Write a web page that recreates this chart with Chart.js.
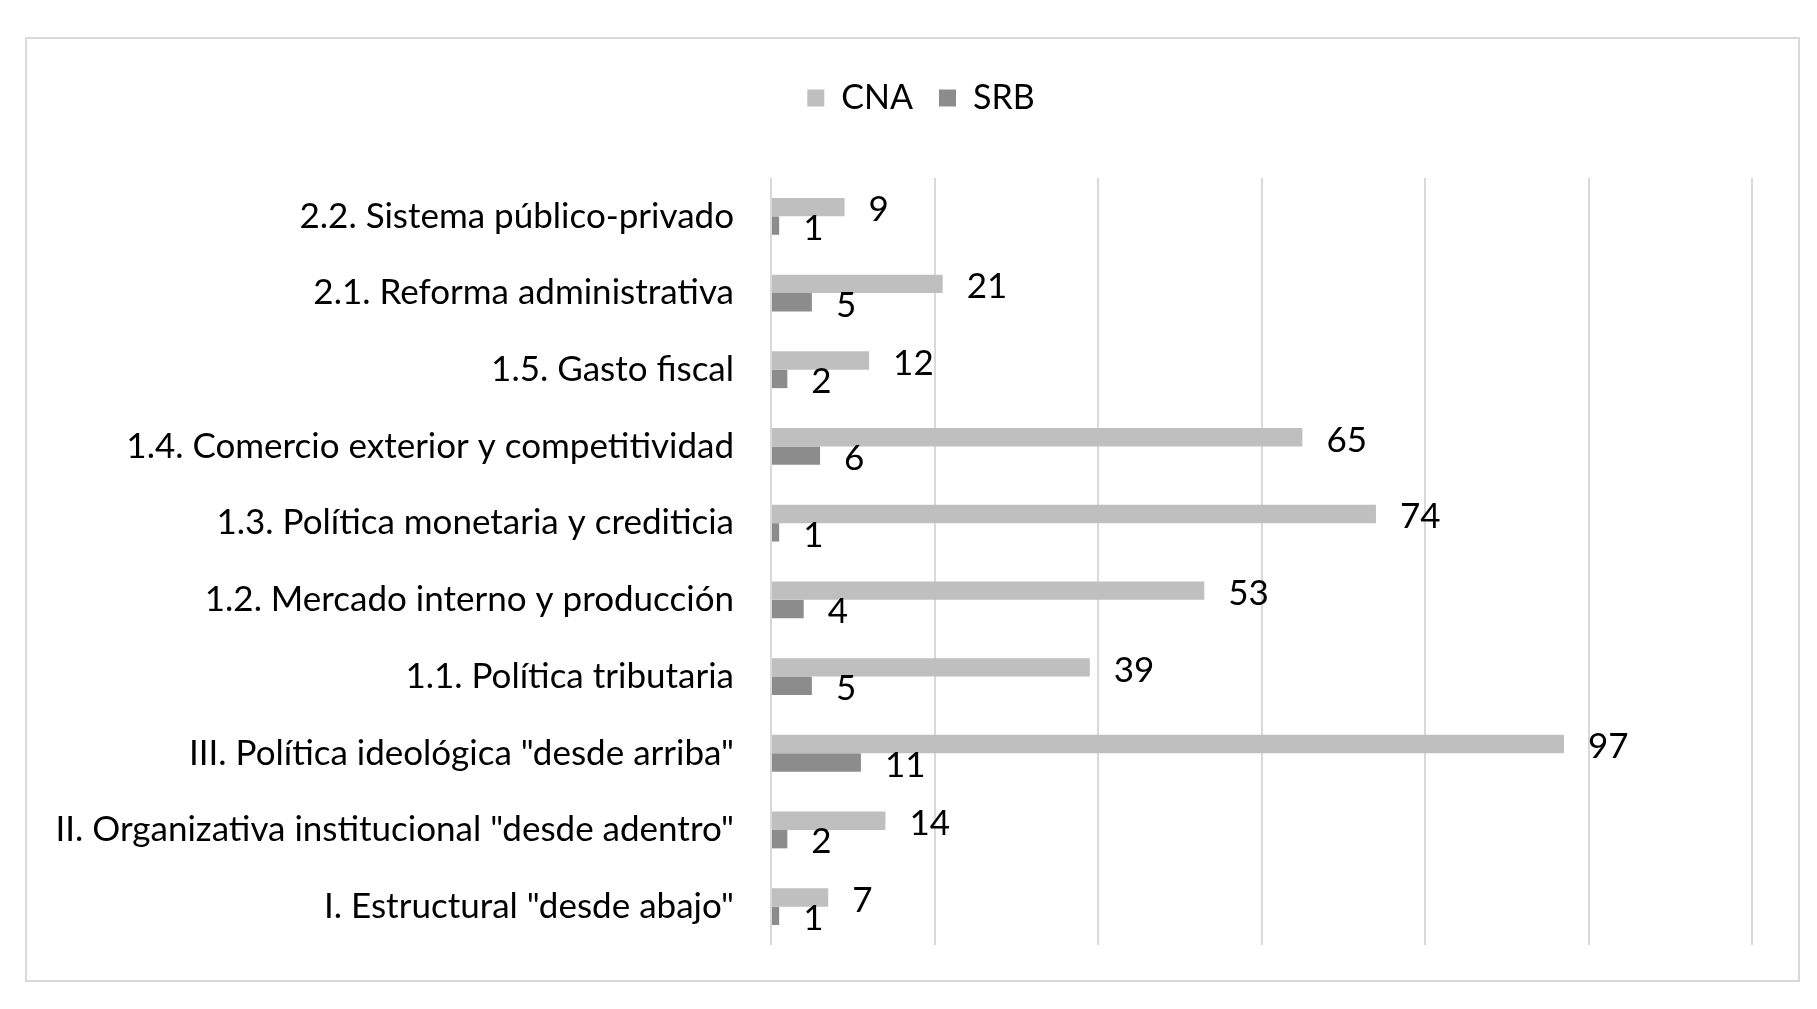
<!DOCTYPE html>
<html>
<head>
<meta charset="utf-8">
<script src="https://cdn.jsdelivr.net/npm/chart.js@4.4.0/dist/chart.umd.min.js"></script>
<style>
  html, body { margin: 0; padding: 0; background: #fff; }
  #marco { position: absolute; left: 25px; top: 37px; width: 1771px; height: 941px; border: 2px solid #d9d9d9; }
  #grafico { position: absolute; left: 0; top: 0; }
</style>
</head>
<body>
<canvas id="grafico" width="1817" height="1009"></canvas>
<div id="marco"></div>
<script>
const categorias = [
  '2.2. Sistema público-privado',
  '2.1. Reforma administrativa',
  '1.5. Gasto fiscal',
  '1.4. Comercio exterior y competitividad',
  '1.3. Política monetaria y crediticia',
  '1.2. Mercado interno y producción',
  '1.1. Política tributaria',
  'III. Política ideológica "desde arriba"',
  'II. Organizativa institucional "desde adentro"',
  'I. Estructural "desde abajo"'
];
const valoresCNA = [9, 21, 12, 65, 74, 53, 39, 97, 14, 7];
const valoresSRB = [1, 5, 2, 6, 1, 4, 5, 11, 2, 1];

const fuente = 'Lato';

// etiquetas de valor al final de cada barra
const etiquetasValor = {
  id: 'etiquetasValor',
  afterDatasetsDraw(chart) {
    const ctx = chart.ctx;
    ctx.save();
    ctx.font = '35px ' + fuente;
    ctx.fillStyle = '#000';
    ctx.textBaseline = 'middle';
    chart.data.datasets.forEach((ds, i) => {
      chart.getDatasetMeta(i).data.forEach((barra, j) => {
        ctx.fillText(ds.data[j], barra.x + 24, barra.y + 3);
      });
    });
    ctx.restore();
  }
};

// espacio extra bajo la leyenda y leyenda centrada como en el original
const ajusteLeyenda = {
  id: 'ajusteLeyenda',
  beforeInit(chart) {
    const fitOriginal = chart.legend.fit;
    chart.legend.fit = function () {
      fitOriginal.bind(chart.legend)();
      this.height += 53;
    };
  },
  afterLayout(chart) {
    chart.legend.left += 45;
    chart.legend.right += 45;
  }
};

new Chart(document.getElementById('grafico'), {
  type: 'bar',
  data: {
    labels: categorias,
    datasets: [
      { label: 'CNA', data: valoresCNA, backgroundColor: '#bfbfbf', barPercentage: 1, categoryPercentage: 0.48 },
      { label: 'SRB', data: valoresSRB, backgroundColor: '#8c8c8c', barPercentage: 1, categoryPercentage: 0.48 }
    ]
  },
  options: {
    indexAxis: 'y',
    responsive: false,
    animation: false,
    devicePixelRatio: 1,
    layout: { padding: { left: 0, right: 65, top: 55, bottom: 64 } },
    plugins: {
      legend: {
        position: 'top',
        labels: { boxWidth: 17, boxHeight: 17, padding: 26, color: '#000', font: { family: fuente, size: 34 } }
      },
      tooltip: { enabled: false }
    },
    scales: {
      x: {
        min: 0, max: 120,
        ticks: { display: false, stepSize: 20 },
        grid: { color: '#d9d9d9', lineWidth: 2, drawTicks: false },
        border: { display: false }
      },
      y: {
        afterFit(scale) { scale.width = 771; },
        ticks: { color: '#000', padding: 37, font: { family: fuente, size: 35 } },
        grid: { display: false, drawTicks: false },
        border: { display: false }
      }
    }
  },
  plugins: [etiquetasValor, ajusteLeyenda]
});
</script>
</body>
</html>
